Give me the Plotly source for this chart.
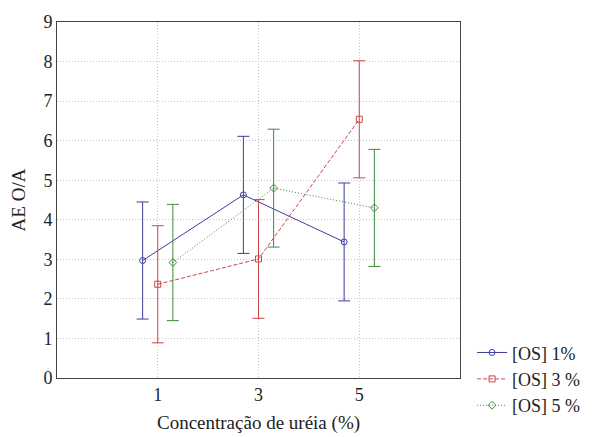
import plotly.graph_objects as go

categories = [1, 3, 5]
series_names = ["[OS] 1%", "[OS] 3 %", "[OS] 5 %"]
means_os1 = [2.97, 4.63, 3.44]
means_os3 = [2.37, 3.01, 6.54]
means_os5 = [2.92, 4.80, 4.30]
err_os1 = [1.48, 1.48, 1.49]
err_os3 = [1.48, 1.50, 1.48]
err_os5 = [1.47, 1.49, 1.48]
y_ticks = list(range(0, 10))

colors = ["#3c3c9c", "#c84848", "#3c8c3c"]
dashes = ["solid", "4px,2px", "1px,2px"]
symbols = ["circle-open", "square-open", "diamond-open"]
offsets = [-0.3, 0.0, 0.3]
means = [means_os1, means_os3, means_os5]
errs = [err_os1, err_os3, err_os5]

fig = go.Figure()
for name, m, e, c, d, s, o in zip(series_names, means, errs, colors, dashes, symbols, offsets):
    fig.add_trace(go.Scatter(
        x=[v + o for v in categories], y=m, name=name,
        mode="lines+markers",
        line=dict(color=c, width=1, dash=d),
        marker=dict(symbol=s, size=6, color=c, line=dict(width=1, color=c)),
        error_y=dict(type="data", array=e, visible=True, color=c, thickness=1, width=6),
    ))

font = "Liberation Serif"
# page body has an 8px default margin; figure is sized/margined to compensate
fig.update_layout(
    width=584, height=429,
    margin=dict(l=49, r=132, t=14, b=59, autoexpand=False),
    paper_bgcolor="white", plot_bgcolor="white",
    font=dict(family=font, size=18, color="#222"),
    showlegend=True,
    legend=dict(x=1.03, y=-0.13, xanchor="left", yanchor="bottom",
                font=dict(family=font, size=18, color="#222"),
                tracegroupgap=0, itemwidth=30, bgcolor="rgba(0,0,0,0)"),
    xaxis=dict(range=[-1, 7], tickvals=categories, ticktext=[str(c) for c in categories],
               tickfont=dict(family=font, size=18),
               showgrid=True, gridcolor="#c4c4c4", griddash="1px,2px", gridwidth=1,
               showline=True, linecolor="#444", linewidth=1, mirror=True,
               ticks="", zeroline=False,
               title=dict(text="Concentração de uréia (%)", font=dict(family=font, size=19), standoff=12)),
    yaxis=dict(range=[0, 9], tickvals=y_ticks,
               tickfont=dict(family=font, size=18),
               showgrid=True, gridcolor="#c4c4c4", griddash="1px,2px", gridwidth=1,
               showline=True, linecolor="#444", linewidth=1, mirror=True,
               ticks="", zeroline=False,
               title=dict(text="AE O/A", font=dict(family=font, size=19), standoff=12)),
)
fig.write_html("out.html")
